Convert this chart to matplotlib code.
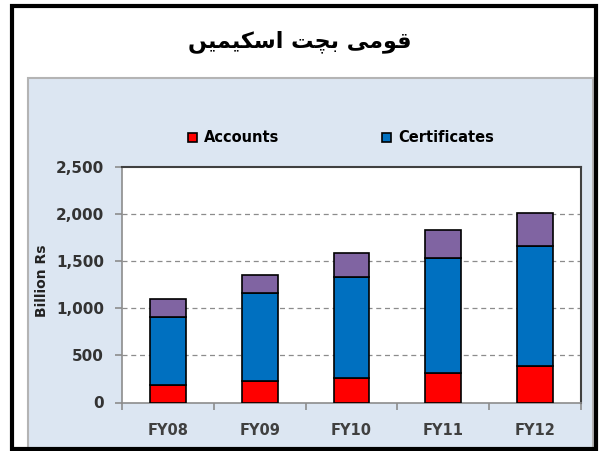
import matplotlib.pyplot as plt
from matplotlib.patches import Rectangle
import numpy as np

# values (billion Rs)
years = ["FY08", "FY09", "FY10", "FY11", "FY12"]
accounts = [186, 228, 264, 310, 391]
certificates = [718, 938, 1072, 1221, 1274]
others = [195, 187, 248, 300, 345]
yticks = [0, 500, 1000, 1500, 2000, 2500]

# Urdu title in presentation forms, logical order (matplotlib does no shaping)
title_forms = "\uFED7\uFEEE\uFEE3\uFBFD \uFE91\uFB7D\uFE96 \uFE8D\uFEB3\uFB91\uFBFF\uFEE4\uFBFF\uFB9F"

fig = plt.figure(figsize=(5.99, 4.51), dpi=100)
W, H = 599, 451

def fx(px):
    return px / W

def fy(py):
    return 1 - py / H

# light blue panel and the outer black frame
fig.patches.append(Rectangle((fx(28), fy(449)), fx(593) - fx(28), fy(78) - fy(449),
                             transform=fig.transFigure, facecolor="#dce6f2",
                             edgecolor="#b4b4b4", linewidth=1.5, zorder=-2))
fig.patches.append(Rectangle((fx(11.5), fy(449)), fx(595.5) - fx(11.5), fy(5.5) - fy(449),
                             transform=fig.transFigure, fill=False,
                             edgecolor="black", linewidth=3, zorder=5))

fig.text(0.5, fy(42), title_forms[::-1], ha="center", va="center",
         fontsize=16, fontweight="bold", family=["DejaVu Sans"])

ax = fig.add_axes([fx(122), fy(402.5), fx(581) - fx(122), fy(167) - fy(402.5)])
ax.set_zorder(2)
ax.set_facecolor("white")

x = np.arange(len(years))
w = 0.39
acc = np.array(accounts)
cert = np.array(certificates)
oth = np.array(others)
ax.bar(x, acc, w, color="#ff0000", edgecolor="black", linewidth=1.2, label="Accounts", zorder=3)
ax.bar(x, cert, w, bottom=acc, color="#0070c0", edgecolor="black", linewidth=1.2,
       label="Certificates", zorder=3)
ax.bar(x, oth, w, bottom=acc + cert, color="#8064a2", edgecolor="black", linewidth=1.2, zorder=3)

ax.set_xlim(-0.5, len(years) - 0.5)
ax.set_ylim(0, 2500)
ax.set_yticks(yticks)
ax.set_yticklabels([f"{v:,}" for v in yticks])
ax.set_xticks(x)
ax.set_xticklabels(years)
ax.set_xticks(np.arange(-0.5, len(years)), minor=True)

for v in yticks[1:-1]:
    ax.axhline(v, color="#8c8c8c", linestyle=(0, (4, 3)), linewidth=0.9, zorder=1)

for s in ["left", "bottom"]:
    ax.spines[s].set_color("#8c8c8c")
    ax.spines[s].set_linewidth(1.2)
for s in ["top", "right"]:
    ax.spines[s].set_color("#404040")
    ax.spines[s].set_linewidth(1.5)

ax.tick_params(axis="x", which="major", length=0, pad=15, labelsize=10.5, labelcolor="#404040")
ax.tick_params(axis="x", which="minor", length=5, color="#8c8c8c", width=1.2)
ax.tick_params(axis="y", length=5, color="#8c8c8c", width=1.2, pad=8,
               labelsize=11, labelcolor="#333333")
for lab in ax.get_xticklabels() + ax.get_yticklabels():
    lab.set_fontweight("bold")

fig.text(fx(42), fy(281), "Billion Rs", rotation=90, ha="center", va="center",
         fontsize=10, fontweight="bold", color="#222222")

fig.legend(loc="center", bbox_to_anchor=(fx(341), fy(138)), ncol=2, frameon=False,
           prop={"weight": "bold", "size": 10.5}, handlelength=0.6, handleheight=0.6,
           handletextpad=0.5, columnspacing=7.0)

fig.savefig("out.png", dpi=100)
